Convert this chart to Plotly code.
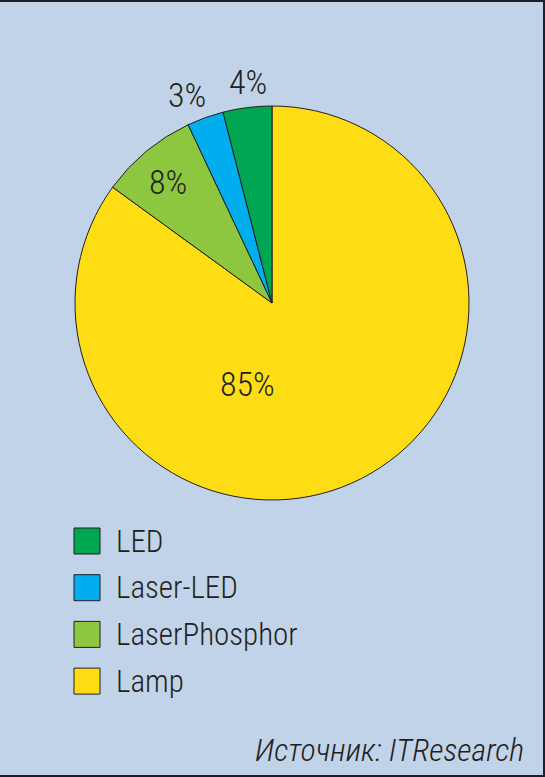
import math
import plotly.graph_objects as go

categories = ["LED", "Laser-LED", "LaserPhosphor", "Lamp"]
shares = [4, 3, 8, 85]
colors = ["#00A651", "#00AEEF", "#8DC63F", "#FFDD15"]
source_text = "Источник: ITResearch"

# label placement (fraction of radius, angular shift in degrees) per slice
label_radius = [1.13, 1.14, 0.81, 0.43]
label_shift = [-1.0, 2.5, 1.0, -44.0]

W, H = 545, 777
BG = "#C0D3E8"
DARK = "#231F20"
FONT = "Roboto Condensed, DejaVu Sans Condensed, Liberation Sans Narrow, Arial Narrow, sans-serif"
WEIGHT = 350

# pie geometry (pixels)
px0, px1, py0, py1 = 75, 469, 106, 500
cx, cy, R = (px0 + px1) / 2, (py0 + py1) / 2, (px1 - px0) / 2

# reference goes counter-clockwise from 12 o'clock starting with LED;
# equivalent to clockwise from 12 o'clock with reversed order
order = list(reversed(range(len(categories))))

fig = go.Figure()
fig.add_trace(go.Pie(
    labels=[categories[i] for i in order],
    values=[shares[i] for i in order],
    sort=False,
    direction="clockwise",
    rotation=0,
    marker=dict(colors=[colors[i] for i in order], line=dict(color=DARK, width=1)),
    textinfo="none",
    domain=dict(x=[px0 / W, px1 / W], y=[1 - py1 / H, 1 - py0 / H]),
    showlegend=False,
    hoverinfo="label+percent",
))

shapes = []
annotations = []

# slice value labels, positioned from the cumulative shares
total = sum(shares)
cum = 0
for v, rf, sh in zip(shares, label_radius, label_shift):
    mid = (cum + v / 2) / total * 360 + sh  # degrees counter-clockwise from 12 o'clock
    cum += v
    a = math.radians(mid)
    x = cx - rf * R * math.sin(a)
    y = cy - rf * R * math.cos(a)
    annotations.append(dict(xref="paper", yref="paper", x=x / W, y=1 - y / H,
                            text=f"{v}%", showarrow=False,
                            xanchor="center", yanchor="middle",
                            font=dict(family=FONT, size=34, color=DARK, weight=WEIGHT)))

# custom legend built from the category/color lists
leg_x0, leg_top, leg_step, sq = 74, 528, 46.7, 26
for i, (name, col) in enumerate(zip(categories, colors)):
    y0 = leg_top + i * leg_step
    shapes.append(dict(type="rect", xref="paper", yref="paper",
                       x0=leg_x0 / W, x1=(leg_x0 + sq) / W,
                       y0=1 - (y0 + sq) / H, y1=1 - y0 / H,
                       fillcolor=col, line=dict(color=DARK, width=1)))
    annotations.append(dict(xref="paper", yref="paper", x=114 / W, y=1 - (y0 + sq / 2) / H,
                            text=name, showarrow=False, xanchor="left", yanchor="middle",
                            font=dict(family=FONT, size=31, color=DARK, weight=WEIGHT)))

annotations.append(dict(xref="paper", yref="paper", x=526 / W, y=1 - 750 / H,
                        text=f"<i>{source_text}</i>", showarrow=False,
                        xanchor="right", yanchor="middle",
                        font=dict(family=FONT, size=32, color=DARK, weight=WEIGHT)))

# frame lines (top, right, bottom)
for x0, y0, x1, y1 in [(0, 1, 1, 1), (1, 0, 1, 1), (0, 0, 1, 0)]:
    shapes.append(dict(type="line", xref="paper", yref="paper",
                       x0=x0, y0=y0, x1=x1, y1=y1,
                       line=dict(color="#1A1F2B", width=4)))

fig.update_layout(
    width=W, height=H,
    margin=dict(l=0, r=0, t=0, b=0),
    paper_bgcolor=BG, plot_bgcolor=BG,
    shapes=shapes, annotations=annotations,
    showlegend=False,
)

fig.write_html("out.html", config={"displayModeBar": False},
               post_script="document.body.style.margin='0';")
